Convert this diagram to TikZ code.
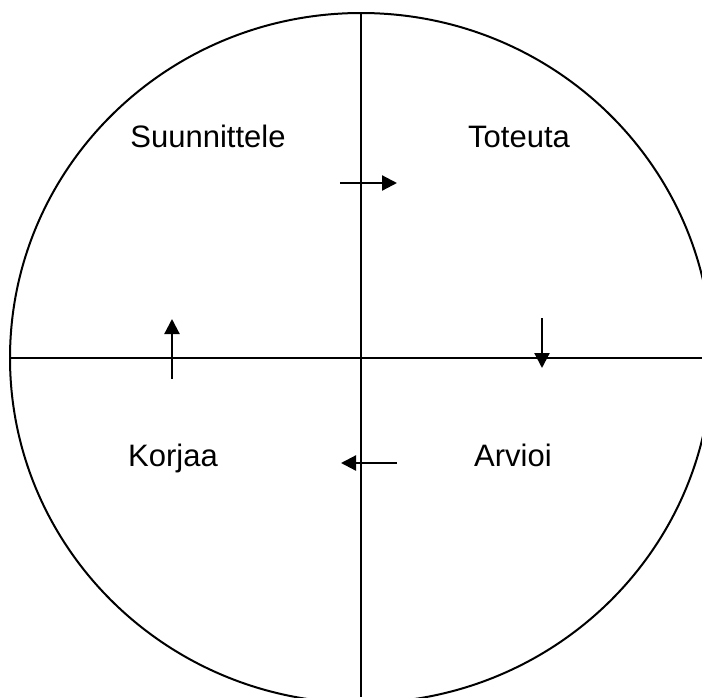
\documentclass[tikz,border=0pt]{standalone}
\usepackage{fontspec}
\setmainfont{Liberation Sans}
\usetikzlibrary{arrows.meta, positioning, calc}

\begin{document}
\begin{tikzpicture}[
    x=1pt, y=-1pt,
    phase/.style={anchor=base, inner sep=0pt, font=\fontsize{31}{36}\selectfont},
    axis/.style={line width=2pt, black},
    turn/.style={-{Triangle[length=15pt, width=15pt]}, line width=2.2pt, black},
]
\useasboundingbox (0,0) rectangle (702,697);
\clip (0,0) rectangle (702,697);

% --- kehä ja akselit ---
\coordinate (c) at (361,358);
\draw[axis] (c) ellipse [x radius=351, y radius=345];
\coordinate (h1) at (10,358);
\coordinate (h2) at (702,358);
\coordinate (v1) at (361,13);
\coordinate (v2) at (361,697);
\draw[axis] (h1) -- (h2);
\draw[axis] (v1) -- (v2);

% --- vaiheet ---
\node[phase] (plan) at (208,147) {Suunnittele};
\node[phase] (do) at (519,147) {Toteuta};
\node[phase] (fix) at (173,466) {Korjaa};
\node[phase] (check) at (513,466) {Arvioi};

% --- kierron nuolet ---
\coordinate (a1) at (340,183);
\coordinate (b1) at (397,183);
\coordinate (a2) at (542,318);
\coordinate (b2) at (542,368);
\coordinate (a3) at (397,463);
\coordinate (b3) at (341,463);
\coordinate (a4) at (172,379);
\coordinate (b4) at (172,319);
\draw[turn] (a1) -- (b1);
\draw[turn] (a2) -- (b2);
\draw[turn] (a3) -- (b3);
\draw[turn] (a4) -- (b4);

\end{tikzpicture}
\end{document}
